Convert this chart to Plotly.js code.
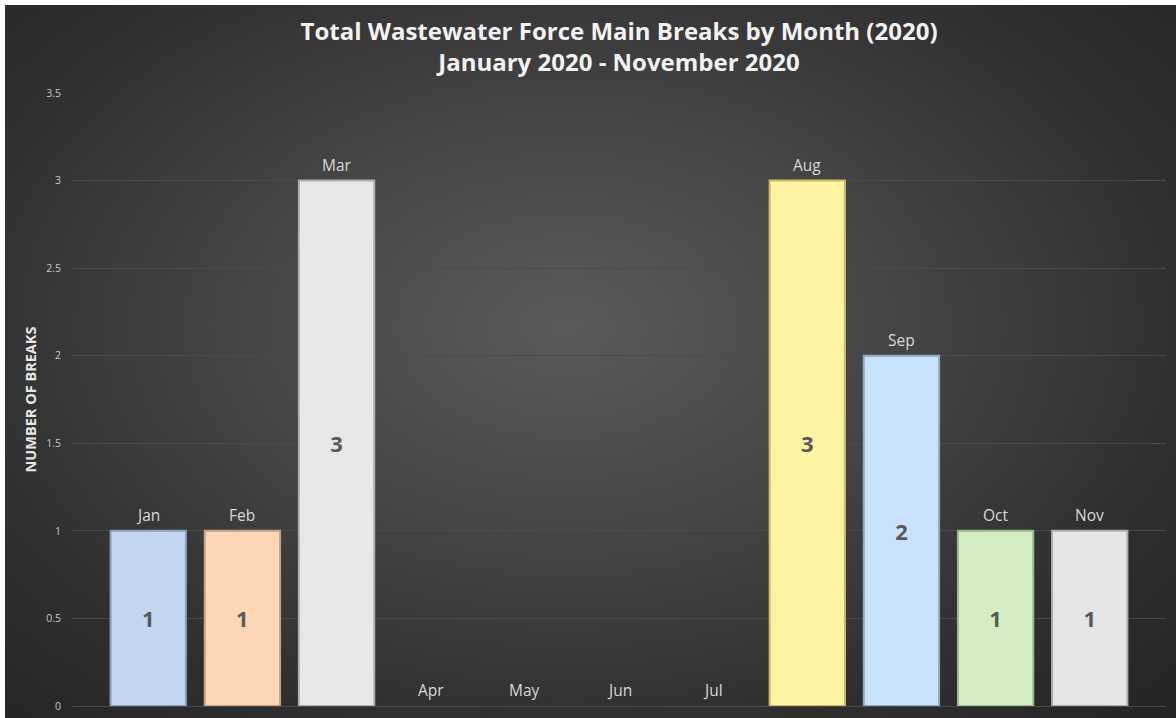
<!DOCTYPE html>
<html>
<head>
<meta charset="utf-8">
<script src="https://cdn.plot.ly/plotly-3.0.1.min.js"></script>
<style>
  html, body { margin: 0; padding: 0; background: #ffffff; width: 1176px; height: 718px; overflow: hidden; }
  #bg { position: absolute; left: 5px; top: 5px; width: 1171px; height: 713px;
        background: radial-gradient(ellipse 70% 75% at 48% 45%, #5a5a5a 0%, #454545 40%, #303030 75%, #262626 100%); }
  #chart { position: absolute; left: 0; top: 0; width: 1176px; height: 718px; }
</style>
</head>
<body>
<div id="bg"></div>
<div id="chart"></div>
<script>
const months = ["Jan","Feb","Mar","Apr","May","Jun","Jul","Aug","Sep","Oct","Nov"];
const breaks = [1, 1, 3, 0, 0, 0, 0, 3, 2, 1, 1];
const barColors = ["#c3d5f1","#fdd7b5","#e7e7e7","#c3d5f1","#fdd7b5","#e7e7e7","#fff2a1","#fff2a1","#c8e2fd","#d4edc4","#e5e5e5"];
const edgeColors = ["#8b9fbd","#c4a184","#b0b0b0","#8b9fbd","#c4a184","#b0b0b0","#c9bb6a","#c9bb6a","#90a8c2","#9db88f","#adadad"];
const yTicks = [0, 0.5, 1, 1.5, 2, 2.5, 3, 3.5];

const FONT = "Open Sans, Noto Sans, sans-serif";

const trace = {
  type: "bar",
  x: months,
  y: breaks,
  width: 0.8,
  marker: { color: barColors, line: { color: edgeColors, width: breaks.map(v => v > 0 ? 2 : 0) } },
  text: breaks.map(v => v > 0 ? "<b>" + v + "</b>" : ""),
  textposition: "inside",
  insidetextanchor: "middle",
  textfont: { family: FONT, size: 22, color: "#595959" },
  textangle: 0,
  hoverinfo: "x+y"
};

const annotations = months.map((m, i) => ({
  x: m, y: breaks[i], xref: "x", yref: "y",
  text: m, showarrow: false, yanchor: "bottom", yshift: 3,
  font: { family: FONT, size: 15.5, color: "#d9d9d9" }
}));

const layout = {
  width: 1176, height: 718,
  paper_bgcolor: "rgba(0,0,0,0)",
  plot_bgcolor: "rgba(0,0,0,0)",
  margin: { l: 72, r: 10, t: 93, b: 12 },
  showlegend: false,
  title: {
    text: "<b>Total Wastewater Force Main Breaks by Month (2020)<br>January 2020 - November 2020</b>",
    font: { family: FONT, size: 24, color: "#f2f2f2" },
    x: 0.5, xanchor: "center", xref: "paper",
    y: 0.944, yref: "container", yanchor: "middle"
  },
  xaxis: {
    type: "category",
    range: [-0.81, 10.81],
    showticklabels: false,
    showgrid: false, zeroline: false, showline: false, ticks: ""
  },
  yaxis: {
    range: [0, 3.5],
    tickvals: yTicks,
    ticktext: yTicks.map(String),
    showgrid: true, gridcolor: "#4b4b4b", gridwidth: 1,
    zeroline: true, zerolinecolor: "#4b4b4b", zerolinewidth: 1,
    showline: false, ticks: "",
    ticklabelstandoff: 10,
    tickfont: { family: FONT, size: 10.5, color: "#c8c8c8" },
    title: {
      text: "<b>NUMBER OF BREAKS</b>",
      font: { family: FONT, size: 14.5, color: "#e6e6e6" },
      standoff: 6
    }
  },
  annotations: annotations
};

Plotly.newPlot("chart", [trace], layout, { displayModeBar: false, staticPlot: true });
</script>
</body>
</html>
